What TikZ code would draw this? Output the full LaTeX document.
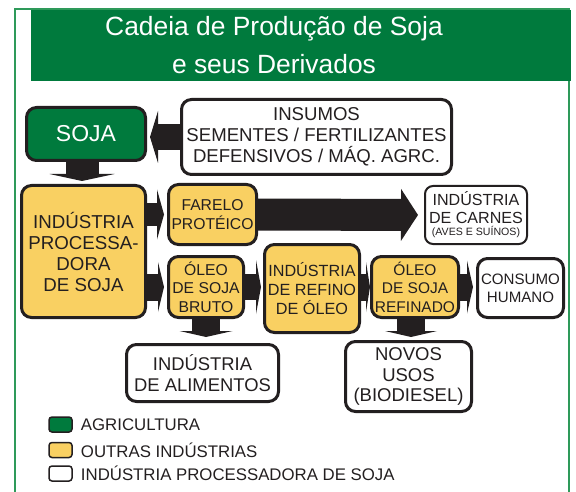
\documentclass[tikz,border=0pt]{standalone}
\usepackage{fontspec}
\setmainfont{Liberation Sans}
\usetikzlibrary{arrows.meta, positioning}
\definecolor{soygreen}{HTML}{007A3D}
\definecolor{soyyellow}{HTML}{F9D062}
\definecolor{ink}{HTML}{231F20}
\definecolor{framegreen}{HTML}{2E9A5A}

\begin{document}
\begin{tikzpicture}[
    x=1pt, y=-1pt,
    box/.style={rectangle, rounded corners=10pt, draw=ink, line width=3pt, text=ink, align=center, inner sep=0pt},
    agri/.style={box, fill=soygreen, text=white},
    other/.style={box, fill=soyyellow},
    proc/.style={box, fill=white},
    flow/.style n args={3}{draw=ink, line width=#1, -{Triangle[width=#2, length=#3, line width=0pt]}},
    legbox/.style={rectangle, rounded corners=3pt, draw=ink, line width=1.5pt, minimum width=23pt, minimum height=15pt, inner sep=0pt},
    legtext/.style={text=ink, inner sep=0pt, font=\fontsize{16.8}{20}\selectfont}
]
\useasboundingbox (0,0) rectangle (576,492);

% 外框与标题
\draw [framegreen, line width=1.5pt] (15,492) -- (15,9) -- (569,9) -- (569,492);
\fill [soygreen] (31,10) rectangle (571,81);
\node (title) [text=white, align=center, font=\fontsize{26.4}{38}\selectfont] at (274,45) {Cadeia de Produção de Soja\\e seus Derivados};

% 第一行
\node (soja) [agri, minimum width=119pt, minimum height=53pt, font=\fontsize{23}{26}\selectfont] at (86,134) {SOJA};
\node (insumos) [proc, minimum width=270pt, minimum height=75pt, font=\fontsize{18.6}{21}\selectfont] at (316.5,137) {INSUMOS\\SEMENTES / FERTILIZANTES\\DEFENSIVOS / MÁQ. AGRC.};

% 加工与产品
\node (ips) [other, minimum width=124pt, minimum height=132pt, font=\fontsize{18.7}{21}\selectfont] at (83.5,251.5) {INDÚSTRIA\\PROCESSA-\\DORA\\DE SOJA};
\node (farelo) [other, minimum width=88pt, minimum height=60pt, font=\fontsize{15.7}{19}\selectfont] at (212.5,214.5) {FARELO\\PROTÉICO};
\node (carnes) [proc, line width=2pt, rounded corners=8pt, minimum width=102pt, minimum height=58pt, font=\fontsize{16.1}{18}\selectfont] at (476,215) {INDÚSTRIA\\DE CARNES\\[-6pt]{\fontsize{10.6}{12}\selectfont (AVES E SUÍNOS)}};
\node (bruto) [other, minimum width=75pt, minimum height=61pt, font=\fontsize{15.7}{18.5}\selectfont] at (206,287) {ÓLEO\\DE SOJA\\BRUTO};
\node (refino) [other, minimum width=95pt, minimum height=88pt, font=\fontsize{16.2}{19}\selectfont] at (312,288.5) {INDÚSTRIA\\DE REFINO\\DE ÓLEO};
\node (refinado) [other, minimum width=87pt, minimum height=61pt, font=\fontsize{15.5}{18.5}\selectfont] at (415,287) {ÓLEO\\DE SOJA\\REFINADO};
\node (consumo) [proc, minimum width=86pt, minimum height=59pt, font=\fontsize{15.1}{18}\selectfont] at (520.5,288) {CONSUMO\\HUMANO};
\node (alimentos) [proc, minimum width=152pt, minimum height=57pt, font=\fontsize{18.4}{20.5}\selectfont] at (202.5,373) {INDÚSTRIA\\DE ALIMENTOS};
\node (novos) [proc, minimum width=126pt, minimum height=70pt, font=\fontsize{18.5}{20.5}\selectfont] at (408.5,376.5) {NOVOS\\USOS\\(BIODIESEL)};

% 箭头
\draw [flow={26pt}{52pt}{8pt}, shorten >=3pt] (insumos.west) -- (insumos.west -| soja.east);
\draw [flow={33pt}{65pt}{7pt}, shorten >=3pt] ([xshift=-4pt]soja.south) -- ([xshift=-4pt]soja.south |- ips.north);
\draw [flow={23pt}{50pt}{7pt}, shorten >=3pt] (ips.east |- farelo.west) -- (farelo.west);
\draw [flow={32pt}{52pt}{17pt}, shorten >=6pt] (farelo.east) -- (carnes.west);
\draw [flow={27pt}{50pt}{6pt}, shorten >=3pt] (ips.east |- bruto.west) -- (bruto.west);
\draw [flow={26pt}{54pt}{5pt}, shorten >=2pt] (bruto.east) -- (bruto.east -| refino.west);
\draw [flow={27pt}{50pt}{4pt}] (refino.east |- refinado.west) -- (refinado.west);
\draw [flow={27pt}{53pt}{6pt}, shorten >=3pt] (refinado.east) -- (refinado.east -| consumo.west);
\draw [flow={28pt}{53pt}{6pt}, shorten >=6pt] (bruto.south) -- (bruto.south |- alimentos.north);
\draw [flow={28pt}{52pt}{6pt}, shorten >=3pt] ([xshift=-4pt]refinado.south) -- ([xshift=-4pt]refinado.south |- novos.north);

% 图例
\node (lagri) [legbox, fill=soygreen] at (60.5,424.5) {};
\node (lother) [legbox, fill=soyyellow, below=9pt of lagri] {};
\node (lproc) [legbox, fill=white, below=7pt of lother] {};
\node (tagri) [legtext, right=8pt of lagri] {AGRICULTURA};
\node (tother) [legtext, right=8pt of lother] {OUTRAS INDÚSTRIAS};
\node (tproc) [legtext, right=8pt of lproc] {INDÚSTRIA PROCESSADORA DE SOJA};

\end{tikzpicture}
\end{document}
